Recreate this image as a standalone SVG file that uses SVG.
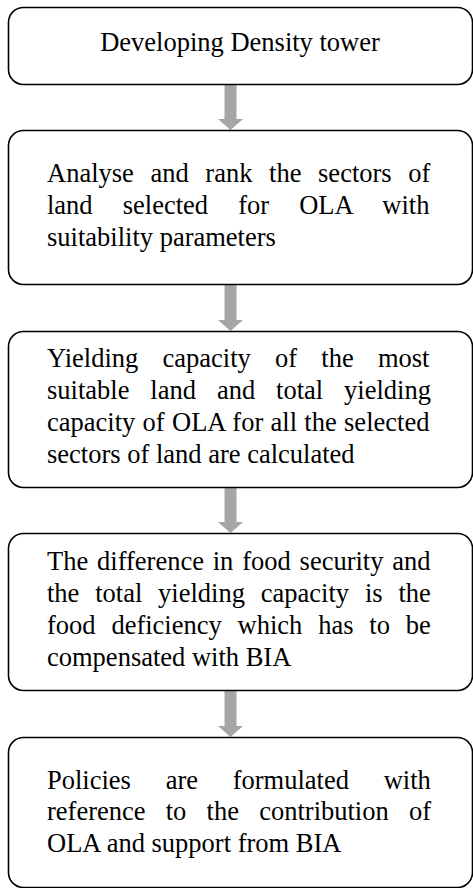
<svg xmlns="http://www.w3.org/2000/svg" width="473" height="888" viewBox="0 0 473 888">
<style>
.box{fill:#fff;stroke:#000;stroke-width:1.6}
.t{font-family:"Liberation Serif","Times New Roman",serif;font-size:26.5px;fill:#000}
.arr{fill:#a6a6a6}
</style>
<rect width="473" height="888" fill="#fff"/>
<g id="connectors">
<path class="arr" d="M224.5 85 H236.5 V119 H243 L230.5 130 L218 119 H224.5 Z"/>
<path class="arr" d="M224.5 285 H236.5 V320 H243 L230.5 331 L218 320 H224.5 Z"/>
<path class="arr" d="M224.5 488 H236.5 V522 H243 L230.5 533 L218 522 H224.5 Z"/>
<path class="arr" d="M224.5 691 H236.5 V726 H243 L230.5 737 L218 726 H224.5 Z"/>
</g>
<g id="node1">
<rect class="box" x="8.5" y="7.5" width="464" height="77" rx="15"/>
<text class="t" x="240" y="50.5" text-anchor="middle">Developing Density tower</text>
</g>
<g id="node2">
<rect class="box" x="8.5" y="130.5" width="464" height="154" rx="15"/>
<text class="t" x="47" y="181.5" word-spacing="10">Analyse and rank the sectors of</text>
<text class="t" x="47" y="213.5" word-spacing="23.5">land selected for OLA with</text>
<text class="t" x="47" y="245.5">suitability parameters</text>
</g>
<g id="node3">
<rect class="box" x="8.5" y="331.5" width="464" height="156" rx="15"/>
<text class="t" x="47" y="366.5" word-spacing="17.6">Yielding capacity of the most</text>
<text class="t" x="47" y="398.5" word-spacing="14.3">suitable land and total yielding</text>
<text class="t" x="47" y="431" word-spacing="0.7">capacity of OLA for all the selected</text>
<text class="t" x="47" y="463">sectors of land are calculated</text>
</g>
<g id="node4">
<rect class="box" x="8.5" y="533.5" width="464" height="157" rx="15"/>
<text class="t" x="47" y="570" word-spacing="2.2">The difference in food security and</text>
<text class="t" x="47" y="602" word-spacing="9.2">the total yielding capacity is the</text>
<text class="t" x="47" y="634" word-spacing="9.2">food deficiency which has to be</text>
<text class="t" x="47" y="666">compensated with BIA</text>
</g>
<g id="node5">
<rect class="box" x="8.5" y="737.5" width="464" height="150" rx="15"/>
<text class="t" x="47" y="788.5" word-spacing="28.1">Policies are formulated with</text>
<text class="t" x="47" y="820" word-spacing="13.6">reference to the contribution of</text>
<text class="t" x="47" y="851.5">OLA and support from BIA</text>
</g>
</svg>
